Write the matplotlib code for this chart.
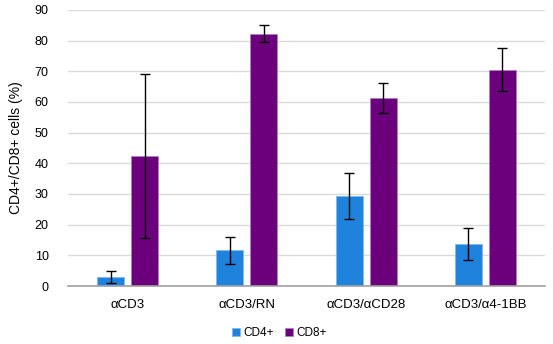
import matplotlib
matplotlib.use("Agg")
import matplotlib.pyplot as plt
import numpy as np

plt.rcParams['font.family'] = ['Liberation Sans', 'DejaVu Sans']

categories = ["αCD3", "αCD3/RN", "αCD3/αCD28", "αCD3/α4-1BB"]
series_names = ["CD4+", "CD8+"]
cd4 = [2.9, 11.6, 29.3, 13.8]
cd4_err = [1.9, 4.3, 7.5, 5.2]
cd8 = [42.4, 82.3, 61.3, 70.5]
cd8_err = [26.8, 2.9, 5.0, 7.0]
yticks = [0, 10, 20, 30, 40, 50, 60, 70, 80, 90]

colors = ["#1F83DD", "#6C007C"]

fig = plt.figure(figsize=(5.53, 3.44), dpi=100)
ax = fig.add_axes([0.123, 0.1686, 0.8625, 0.8024])

x = np.arange(len(categories))
w = 0.226
off = 0.142
ax.bar(x - off, cd4, w, color=colors[0], edgecolor="#7FB8EE", linewidth=0.6, label=series_names[0], zorder=2)
ax.bar(x + off, cd8, w, color=colors[1], edgecolor="#B07FC0", linewidth=0.6, label=series_names[1], zorder=2)
ax.errorbar(x - off, cd4, yerr=cd4_err, fmt="none", ecolor="black", elinewidth=1, capsize=3.5, capthick=1, zorder=3)
ax.errorbar(x + off, cd8, yerr=cd8_err, fmt="none", ecolor="black", elinewidth=1, capsize=3.5, capthick=1, zorder=3)

ax.set_xlim(-0.5, len(categories) - 0.5)
ax.set_ylim(0, 90)
ax.set_yticks(yticks)
ax.set_xticks(x)
ax.set_xticklabels(categories, fontsize=9.5)
ax.tick_params(axis='y', labelsize=9, length=0, pad=14)
ax.tick_params(axis='x', length=0, pad=9)
ax.grid(axis='y', color="#D9D9D9", linewidth=1, zorder=0)
ax.set_axisbelow(True)
for s in ["top", "right", "left"]:
    ax.spines[s].set_visible(False)
ax.spines["bottom"].set_color("#A0A0A0")
ax.spines["bottom"].set_linewidth(1.2)
ax.set_ylabel("CD4+/CD8+ cells (%)", fontsize=10, labelpad=8)

fig.legend(loc="center", bbox_to_anchor=(0.505, 0.032), ncol=2, frameon=False,
           fontsize=8.5, handlelength=0.7, handleheight=0.7, handletextpad=0.3, columnspacing=0.9)

fig.savefig("out.png", dpi=100)
